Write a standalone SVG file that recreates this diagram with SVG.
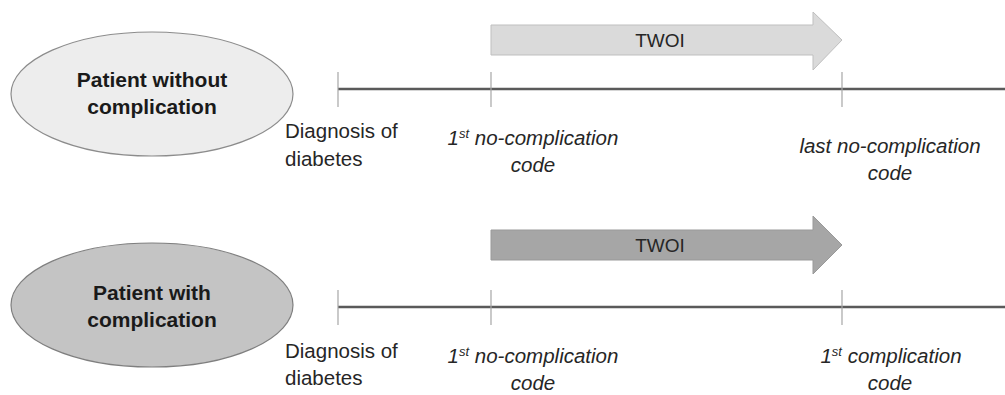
<svg xmlns="http://www.w3.org/2000/svg" width="1005" height="395" viewBox="0 0 1005 395">
<style>
.lbl{font-family:"Liberation Sans",Arial,sans-serif;font-size:20.5px;fill:#262626}
.it{font-style:italic;text-anchor:middle}
.bold{font-family:"Liberation Sans",Arial,sans-serif;font-size:21px;font-weight:bold;fill:#1a1a1a;text-anchor:middle}
.twoi{font-family:"Liberation Sans",Arial,sans-serif;font-size:19px;fill:#262626;text-anchor:middle}
.axis{stroke:#5a5a5a;stroke-width:2.5;fill:none}
.tick{stroke:#a6a6a6;stroke-width:1.2;fill:none}
</style>
<rect width="1005" height="395" fill="#ffffff"/>
<g id="connectors">
<line class="axis" x1="338" y1="89" x2="1005" y2="89"/>
<line class="tick" x1="338" y1="72" x2="338" y2="107"/>
<line class="tick" x1="491" y1="72" x2="491" y2="107"/>
<line class="tick" x1="842" y1="72" x2="842" y2="107"/>
<line class="axis" x1="338" y1="307" x2="1005" y2="307"/>
<line class="tick" x1="338" y1="290" x2="338" y2="325"/>
<line class="tick" x1="491" y1="290" x2="491" y2="325"/>
<line class="tick" x1="842" y1="290" x2="842" y2="325"/>
</g>
<g id="patient-without">
<ellipse cx="152" cy="94" rx="141" ry="62" fill="#ededed" stroke="#8c8c8c" stroke-width="1.2"/>
<text class="bold" x="152" y="87">Patient without</text>
<text class="bold" x="152" y="114">complication</text>
</g>
<g id="patient-with">
<ellipse cx="152" cy="305" rx="141" ry="62" fill="#c4c4c4" stroke="#7f7f7f" stroke-width="1.2"/>
<text class="bold" x="152" y="300">Patient with</text>
<text class="bold" x="152" y="327">complication</text>
</g>
<g id="twoi-1">
<path d="M491,25 H813 V12 L842,40 L813,70 V55 H491 Z" fill="#dadada" stroke="#bfbfbf" stroke-width="1"/>
<text class="twoi" x="660" y="47">TWOI</text>
</g>
<g id="twoi-2">
<path d="M491,230 H813 V216 L842,245 L813,274 V260 H491 Z" fill="#a6a6a6" stroke="#999999" stroke-width="1"/>
<text class="twoi" x="660" y="252">TWOI</text>
</g>
<g id="labels-top">
<text class="lbl" x="285" y="138">Diagnosis of</text>
<text class="lbl" x="285" y="166">diabetes</text>
<text class="lbl it" x="533" y="145">1<tspan font-size="13" dy="-7">st</tspan><tspan dy="7"> no-complication</tspan></text>
<text class="lbl it" x="533" y="172">code</text>
<text class="lbl it" x="890" y="153">last no-complication</text>
<text class="lbl it" x="890" y="180">code</text>
</g>
<g id="labels-bottom">
<text class="lbl" x="285" y="358">Diagnosis of</text>
<text class="lbl" x="285" y="385">diabetes</text>
<text class="lbl it" x="533" y="363">1<tspan font-size="13" dy="-7">st</tspan><tspan dy="7"> no-complication</tspan></text>
<text class="lbl it" x="533" y="390">code</text>
<text class="lbl it" x="891" y="363">1<tspan font-size="13" dy="-7">st</tspan><tspan dy="7"> complication</tspan></text>
<text class="lbl it" x="890" y="390">code</text>
</g>
</svg>
